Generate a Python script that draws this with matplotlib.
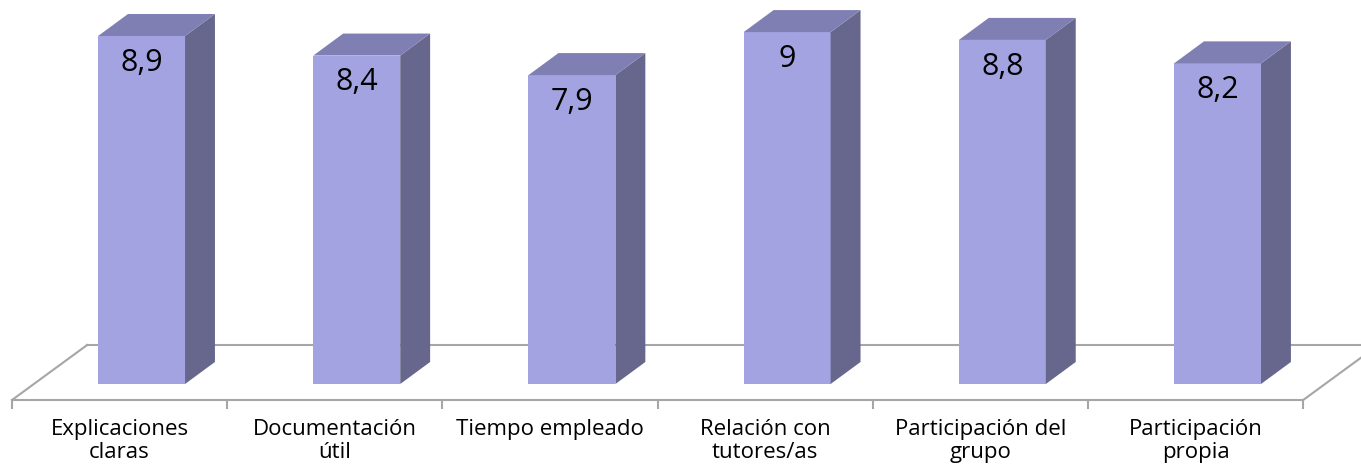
import matplotlib.pyplot as plt
from matplotlib.patches import Polygon

categories = ['Explicaciones\nclaras', 'Documentación\nútil', 'Tiempo empleado',
              'Relación con\ntutores/as', 'Participación del\ngrupo', 'Participación\npropia']
values = [8.9, 8.4, 7.9, 9.0, 8.8, 8.2]
value_labels = ['8,9', '8,4', '7,9', '9', '8,8', '8,2']

front_col = '#A3A3E2'
side_col = '#67678E'
top_col = '#7F7FB3'
floor_col = '#A6A6A6'

plt.rcParams['font.family'] = ['Open Sans', 'DejaVu Sans']

fig = plt.figure(figsize=(13.61, 4.66), dpi=100)
ax = fig.add_axes([0, 0, 1, 1])
# x in category units, y in value units
ax.set_xlim(-0.5558, 5.7686)
ax.set_ylim(-2.097, 9.821)
ax.axis('off')

n = len(values)
floor_front = -0.409
floor_back = 0.997
floor_dx = 0.349

# floor outline
ax.plot([-0.5, n - 0.5], [floor_front, floor_front], color=floor_col, lw=1.5, zorder=1)
ax.plot([-0.5 + floor_dx, n - 0.5 + floor_dx], [floor_back, floor_back], color=floor_col, lw=1.5, zorder=1)
ax.plot([-0.5, -0.5 + floor_dx], [floor_front, floor_back], color=floor_col, lw=1.5, zorder=1)
ax.plot([n - 0.5, n - 0.5 + floor_dx], [floor_front, floor_back], color=floor_col, lw=1.5, zorder=1)
for k in range(n + 1):
    ax.plot([-0.5 + k, -0.5 + k], [floor_front, floor_front - 0.2], color=floor_col, lw=1.5, zorder=1)

# 3D bars
w = 0.404
dx = 0.139
dy = 0.563
for i, v in enumerate(values):
    x0 = i - 0.100
    x1 = x0 + w
    front = Polygon([(x0, 0), (x1, 0), (x1, v), (x0, v)], closed=True,
                    facecolor=front_col, edgecolor='none', zorder=3)
    side = Polygon([(x1, 0), (x1 + dx, dy), (x1 + dx, v + dy), (x1, v)], closed=True,
                   facecolor=side_col, edgecolor='none', zorder=3)
    top = Polygon([(x0, v), (x1, v), (x1 + dx, v + dy), (x0 + dx, v + dy)], closed=True,
                  facecolor=top_col, edgecolor='none', zorder=3)
    for p in (front, side, top):
        ax.add_patch(p)
    ax.text((x0 + x1) / 2, v - 0.68, value_labels[i], ha='center', va='center',
            fontsize=22, color='black', zorder=4)

for i, c in enumerate(categories):
    ax.text(i, -0.9, c, ha='center', va='top', fontsize=16, color='black',
            linespacing=1.12)

fig.savefig('out.png', dpi=100)
